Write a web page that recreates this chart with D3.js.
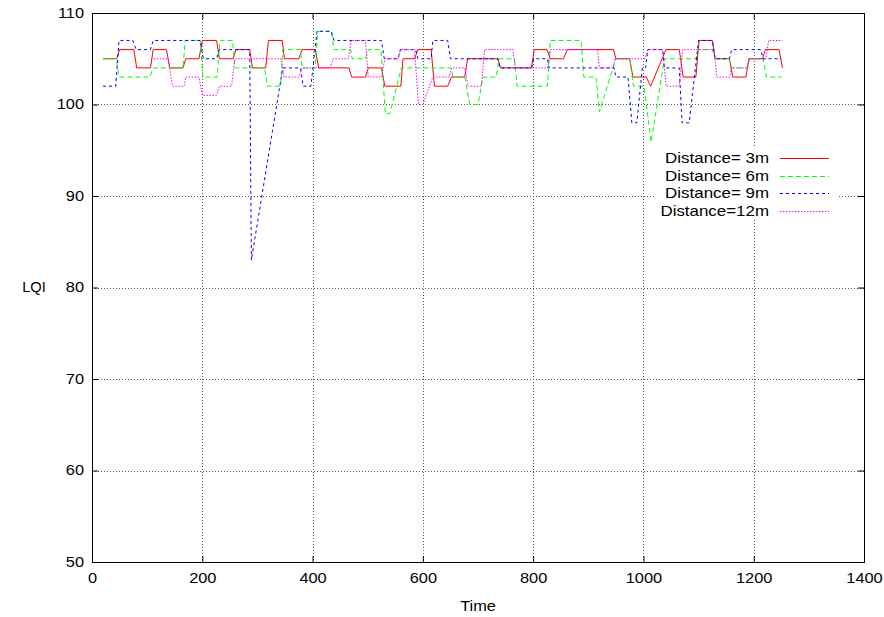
<!DOCTYPE html>
<html><head><meta charset="utf-8">
<script src="https://cdn.jsdelivr.net/npm/d3@7"></script>
<style>
body{margin:0;background:#fff;}
text{font-family:"Liberation Sans",Arial,Helvetica,sans-serif;font-size:14px;fill:#000;}
</style>
</head><body>
<svg id="c" width="884" height="617"></svg>
<script>
// ---- data ----
const xTicks = [0,200,400,600,800,1000,1200,1400];
const yTicks = [50,60,70,80,90,100,110];
const seriesNames = ["Distance= 3m","Distance= 6m","Distance= 9m","Distance=12m"];

const t3 = [20,45,50,76,81,106,111,135,141,165,170,194,200,226,231,256,261,286,291,315,320,345,349,375,381,405,411,466,471,496,501,525,531,560,564,585,591,615,621,645,652,676,681,736,741,797,802,825,831,855,862,946,950,975,981,1005,1013,1041,1065,1072,1095,1101,1125,1130,1156,1162,1186,1191,1216,1221,1246,1252];
const v3 = [105,105,106,106,104,104,106,106,104,104,105,105,107,107,105,105,106,106,104,104,107,107,105,105,106,106,104,104,103,103,104,104,102,102,105,105,106,106,102,102,103,103,105,105,104,104,106,106,105,105,106,106,105,105,103,103,102,106,106,103,103,107,107,105,105,103,103,105,105,106,106,104];

const t6 = [20,44,49,105,111,165,169,196,201,227,232,255,259,313,318,342,346,378,381,405,409,434,439,469,472,496,501,524,532,540,561,651,655,676,685,700,709,733,738,766,771,826,831,887,892,914,920,950,975,982,1001,1014,1038,1095,1100,1125,1130,1156,1160,1189,1192,1217,1223,1250];
const v6 = [105,105,103,103,104,104,107,107,103,103,107,107,104,104,102,102,106,106,104,104,108,108,106,106,105,105,106,106,99,99,104,104,103,103,100,100,103,103,105,105,102,102,107,107,103,103,99.2,105,105,102,102,95.9,105,105,106,106,105,105,104,104,105,105,103,103];

const t9 = [20,43,49,74,80,106,111,196,202,226,231,286,289,346,378,383,397,408,434,439,525,530,555,559,587,591,615,618,645,650,736,740,797,801,826,829,947,950,972,979,988,998,1004,1008,1035,1038,1065,1070,1083,1100,1125,1130,1156,1160,1213,1217,1250];
const v9 = [102,102,107,107,106,106,107,107,105,105,106,106,83,104,104,102,102,108,108,107,107,105,105,106,106,105,105,107,107,105,105,104,104,105,105,104,104,103,103,98,98,104,104,106,106,104,104,98,98,107,107,105,105,106,106,105,105];

const t12 = [112,138,146,167,170,194,200,226,231,253,259,343,348,375,381,432,437,465,470,496,501,525,531,555,560,585,592,600,618,648,652,676,682,706,712,763,768,826,832,917,920,944,949,1002,1008,1035,1041,1065,1071,1128,1133,1156,1160,1189,1192,1222,1227,1252];
const v12 = [105,105,102,102,103,103,101,101,102,102,105,105,103,103,104,104,105,105,107,107,103,103,105,105,106,106,100,100,103,103,104,104,102,102,106,106,104,104,106,106,104,104,105,105,106,106,102,102,106,106,103,103,104,104,105,105,107,107];

const colors = ["#ff0000","#00ff00","#0000ff","#ff00ff"];
const dashes = [null,"5,3","3,3","1.5,1.5"];

// ---- drawing ----
const SX = 1.17; // horizontal stretch of the font
const L=92,R=864,T=13,B=562;
const svg = d3.select("#c");
const x = d3.scaleLinear().domain([0,1400]).range([L,R]);
const y = d3.scaleLinear().domain([50,110]).range([B,T]);

// grid
const grid = svg.append("g").attr("stroke","#555").attr("stroke-width",1).attr("stroke-dasharray","1,2");
grid.selectAll("line.gx").data(xTicks.slice(1,-1)).join("line").attr("class","gx")
  .attr("x1",d=>Math.round(x(d))+0.5).attr("x2",d=>Math.round(x(d))+0.5).attr("y1",T).attr("y2",B);
grid.selectAll("line.gy").data(yTicks.slice(1,-1)).join("line").attr("class","gy")
  .attr("y1",d=>Math.round(y(d))+0.5).attr("y2",d=>Math.round(y(d))+0.5).attr("x1",L).attr("x2",R);

// axes
const fmt = d3.format("d");
const xa = svg.append("g").attr("transform",`translate(0,${B})`)
  .call(d3.axisBottom(x).tickValues(xTicks).tickSize(-6).tickPadding(11).tickFormat(fmt));
const ya = svg.append("g").attr("transform",`translate(${L},0)`)
  .call(d3.axisLeft(y).tickValues(yTicks).tickSize(-6).tickPadding(8).tickFormat(fmt));
svg.append("g").attr("transform",`translate(0,${T})`)
  .call(d3.axisTop(x).tickValues(xTicks).tickSize(-6).tickFormat(""));
svg.append("g").attr("transform",`translate(${R},0)`)
  .call(d3.axisRight(y).tickValues(yTicks).tickSize(-6).tickFormat(""));
svg.selectAll(".domain").remove();
svg.selectAll(".tick line").attr("stroke","#000");
svg.selectAll(".tick text").style("font-family",'"Liberation Sans",Arial,sans-serif').style("font-size","14px").attr("fill","#000");
xa.selectAll(".tick text").attr("transform",`scale(${SX},1)`);
ya.selectAll(".tick text").attr("x",-8/SX).attr("transform",`scale(${SX},1)`);

// series
const series = [[t3,v3],[t6,v6],[t9,v9],[t12,v12]];
const line = d3.line().x(d=>x(d[0])).y(d=>y(d[1]));
series.forEach((s,i)=>{
  const pts = s[0].map((t,j)=>[t,s[1][j]]);
  svg.append("path").datum(pts).attr("d",line).attr("fill","none")
    .attr("stroke",colors[i]).attr("stroke-width",1)
    .attr("stroke-dasharray",dashes[i]);
});

// frame
svg.append("rect").attr("x",L+0.5).attr("y",T+0.5).attr("width",R-L).attr("height",B-T)
  .attr("fill","none").attr("stroke","#000").attr("stroke-width",1);

// legend
const lg = svg.append("g");
lg.append("rect").attr("x",655).attr("y",148).attr("width",183).attr("height",72).attr("fill","#fff");
seriesNames.forEach((n,i)=>{
  const yy = 158 + i*17.7;
  lg.append("text").attr("transform",`translate(769,${yy}) scale(1.21,1)`)
    .attr("text-anchor","end").attr("dy","0.35em").text(n);
  lg.append("line").attr("x1",780).attr("x2",829).attr("y1",Math.round(yy)+0.5).attr("y2",Math.round(yy)+0.5)
    .attr("stroke",colors[i]).attr("stroke-width",1).attr("stroke-dasharray",dashes[i]);
});

// axis titles
svg.append("text").attr("transform",`translate(${(L+R)/2},611) scale(${SX},1)`).attr("text-anchor","middle").text("Time");
svg.append("text").attr("transform",`translate(34,287) scale(1.05,1)`).attr("text-anchor","middle").attr("dy","0.35em").text("LQI");
</script>
</body></html>
